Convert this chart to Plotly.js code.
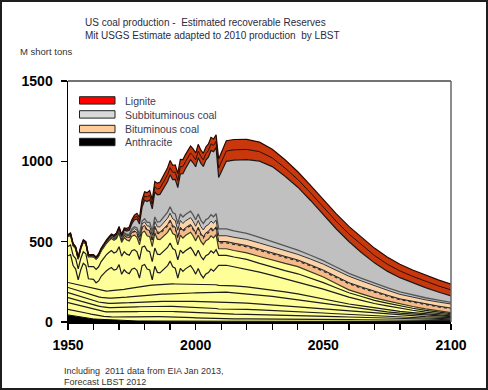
<!DOCTYPE html>
<html>
<head>
<meta charset="utf-8">
<script src="https://cdn.plot.ly/plotly-3.0.1.min.js"></script>
<style>
html,body{margin:0;padding:0;background:#fff;}
#frame{position:absolute;left:0;top:0;width:488px;height:390px;border:2px solid #1e1e1e;box-sizing:border-box;background:#fff;}
#chart{width:484px;height:386px;}
</style>
</head>
<body>
<div id="frame"><div id="chart"></div></div>
<script>
// ---------- x grids ----------
const annualYears = [1950,1951,1952,1953,1954,1955,1956,1957,1958,1959,
  1960,1961,1962,1963,1964,1965,1966,1967,1968,1969,
  1970,1971,1972,1973,1974,1975,1976,1977,1978,1979,
  1980,1981,1982,1983,1984,1985,1986,1987,1988,1989,
  1990,1991,1992,1993,1994,1995,1996,1997,1998,1999,
  2000,2001,2002,2003,2004,2005,2006,2007,2008,
  2009,2012,2015,2020,2025,2030,2035,2040,2045,2050,2055,2060,2065,2070,2075,2080,2085,2090,2095,2100];
const coarseYears = [1950,1955,1960,1965,1970,1975,1980,1985,1990,1995,2000,2005,2008,
  2009,2012,2020,2030,2040,2050,2060,2070,2080,2090,2100];

// ---------- band values (M short tons, stacked bottom to top) ----------
const anthracite = [44,30,19,14,10,7,6,5,4,4,4,4,4, 5,5,5,5,4,4,3,3,3,3,3];
const bitBand1 = [35,35,26,19,20,25,29,29,29,26,22,19,16, 14,14,14,14,14,13,12,10,8,6,5];
const bitBand2 = [42,35,33,30,32,32,31,32,33,33,33,32,32, 31,31,29,26,22,19,16,13,10,8,6];
const bitBand3 = [31,28,26,27,28,29,30,31,32,32,32,32,32, 31,31,30,27,23,20,16,13,10,8,6];
const bitBand4 = [31,30,26,26,26,28,30,31,32,34,37,39,41, 42,42,40,36,31,26,20,16,12,9,7];
const bitBand5 = [32,32,32,32,34,37,40,43,46,49,53,57,60, 63,63,57,52,44,33,25,17,12,8,6];
const bitBand6 = [31,38,46,44,48,54,59,61,61,58,54,50,47, 42,42,43,40,37,27,20,16,11,8,5];
const bitBand7 = [166,177,113,94,31,97,141,131,53,55,
  57,39,54,86,109,126,137,145,127,131,
  159,96,121,102,92,117,121,104,54,128,
  133,103,96,33,116,77,73,86,103,115,
  142,107,98,37,98,79,95,108,116,93,
  63,99,62,41,66,75,97,84,105,
  125,125,119,112,101,90,82,75,70,63,53,43,35,27,23,19,15,12,9,7];
const bitBand8 = [58,70,80,100,112,115,115,113,113,113,113,113,113, 62,62,60,50,50,40,27,20,15,10,7];
const bitBand9 = [60,60,60,70,85,90,92,94,94,94,94,94,94, 41,41,40,45,45,35,18,15,12,10,6];
const bitPeach1 = [2,2,2,4,10,20,30,36,41,41,41,41,41, 37,37,38,38,34,36,38,34,27,25,24];
const bitDark = [1,1,1,1,2,4,6,8,8,8,8,8,8, 8,8,8,8,7,7,7,6,5,5,5];
const bitPeach2 = [1,1,1,2,5,12,22,32,42,42,42,42,42, 36,36,38,38,35,37,40,35,28,26,25];
const subBand1 = [2,2,2,2,4,10,20,30,40,40,40,40,40, 42,42,38,32,26,22,18,16,16,13,10];
const subBand2 = [2,2,2,2,2,2,2,2,2,2,
  2,2,3,3,4,5,5,6,7,8,
  10,12,15,20,26,32,42,55,65,85,
  115,130,140,140,155,170,170,175,180,190,
  200,205,215,225,250,270,285,300,320,325,
  330,350,355,355,370,380,400,405,410,
  321,421,440,459,475,466,434,392,341,284,238,198,159,127,102,88,75,63,51,41];
const ligBand1 = [4,4,4,4,4,4,4,4,4,4,
  4,4,4,4,4,4,4,4,4,5,
  5,6,7,8,10,12,15,18,20,23,
  26,28,29,29,33,36,38,40,42,43,
  44,44,45,44,45,44,44,43,43,43,
  43,42,41,41,41,41,41,40,40,
  58,64,64,63,59,54,51,48,47,47,47,47,47,46,44,42,40,39,38,37];
const ligBand2 = [3,3,3,3,3,3,3,3,3,3,
  3,3,3,3,3,4,4,4,4,4,
  5,6,7,8,10,12,15,18,20,23,
  26,27,29,29,33,36,38,40,42,43,
  44,44,45,44,45,44,44,43,43,43,
  43,42,41,41,41,41,41,40,40,
  57,64,64,63,59,54,51,48,47,47,47,47,47,46,44,41,40,39,37,36];

// ---------- axis ticks & labels ----------
const xTickVals = [1950,1960,1970,1980,1990,2000,2010,2020,2030,2040,2050,2060,2070,2080,2090,2100];
const xTickText = ['1950','','','','','2000','','','','','2050','','','','','2100'];
const yTickVals = [0,500,1000,1500];
const yTickText = ['0','500','1000','1500'];
const legendNames = ['Lignite','Subbituminous coal','Bituminous coal','Anthracite'];
const legendColors = ['#FF0000','#D9D9D9','#FFCC99','#000000'];

const FONT = 'Liberation Sans, Arial, sans-serif';
const YEL = '#FFFF99', LINE = '#1c1c1c';

function band(name, x, y, fill, lineColor, lw, dash) {
  return {type:'scatter', mode:'lines', name:name, x:x, y:y, stackgroup:'coal',
    stackgaps:'interpolate', fillcolor:fill, showlegend:false, hoverinfo:'x+y+name',
    line:{color:lineColor, width:lw, dash:dash||'solid', shape:'linear'}};
}

const traces = [
  band('Anthracite', coarseYears, anthracite, '#000000', '#000000', 1),
  band('Bituminous 1', coarseYears, bitBand1, YEL, LINE, 1.2),
  band('Bituminous 2', coarseYears, bitBand2, YEL, LINE, 1.2),
  band('Bituminous 3', coarseYears, bitBand3, YEL, LINE, 1.2),
  band('Bituminous 4', coarseYears, bitBand4, YEL, LINE, 1.2),
  band('Bituminous 5', coarseYears, bitBand5, YEL, LINE, 1.2),
  band('Bituminous 6', coarseYears, bitBand6, YEL, LINE, 1.2),
  band('Bituminous 7', annualYears, bitBand7, YEL, LINE, 1.2),
  band('Bituminous 8', coarseYears, bitBand8, YEL, LINE, 1.2),
  band('Bituminous 9', coarseYears, bitBand9, YEL, '#3a3a1a', 1.2),
  band('Bituminous 10', coarseYears, bitPeach1, '#F6B98A', '#2a2a2a', 1.2, 'dot'),
  band('Bituminous 11', coarseYears, bitDark, '#B08A66', '#222222', 1),
  band('Bituminous 12', coarseYears, bitPeach2, '#FBD3A8', '#333333', 1),
  band('Subbituminous 1', coarseYears, subBand1, '#C4C4C4', '#555555', 1.3),
  band('Subbituminous 2', annualYears, subBand2, '#C0C0C0', '#1a1a1a', 1.2),
  band('Lignite 1', annualYears, ligBand1, '#C8380C', '#2a0800', 1),
  band('Lignite 2', annualYears, ligBand2, '#C8380C', '#2a0800', 1.2)
];

// plot area in page pixels: x 68..451, y 81..322 (frame offset 2px)
const PL = 68, PR = 451, PT = 81, PB = 322;
const px = v => (v - PL) / (PR - PL);
const py = v => (PB - v) / (PB - PT);

const shapes = [
  {type:'line', xref:'paper', yref:'paper', x0:0, x1:1, y0:1, y1:1, line:{color:'#444', width:1.5}},
  {type:'line', xref:'paper', yref:'paper', x0:1, x1:1, y0:0, y1:1, line:{color:'#666', width:1.5}}
];
const annotations = [];
const legTop = [96.7, 110.7, 125.3, 138.3];
legendNames.forEach((nm, i) => {
  shapes.push({type:'rect', xref:'paper', yref:'paper', x0:px(79.5), x1:px(115), y0:py(legTop[i]+7.4), y1:py(legTop[i]),
    fillcolor:legendColors[i], line:{color:'#222', width:1}, layer:'above'});
  annotations.push({xref:'paper', yref:'paper', x:px(123), y:py(legTop[i]+3.9), xanchor:'left', yanchor:'middle',
    text:nm, showarrow:false, font:{family:FONT, size:10.5, color:'#3c3c52'}});
});
annotations.push({xref:'paper', yref:'paper', x:px(18), y:py(51), xanchor:'left', yanchor:'middle',
  text:'M short tons', showarrow:false, font:{family:FONT, size:9.5, color:'#333'}});
annotations.push({xref:'paper', yref:'paper', x:px(62), y:py(371), xanchor:'left', yanchor:'middle',
  text:'Including  2011 data from EIA Jan 2013,', showarrow:false, font:{family:FONT, size:9, color:'#333'}});
annotations.push({xref:'paper', yref:'paper', x:px(62), y:py(381.5), xanchor:'left', yanchor:'middle',
  text:'Forecast LBST 2012', showarrow:false, font:{family:FONT, size:9, color:'#333'}});

const layout = {
  width:484, height:386,
  margin:{l:66, r:35, t:79, b:66, pad:0},
  paper_bgcolor:'#fff', plot_bgcolor:'#fff',
  showlegend:false,
  title:{text:'US coal production -  Estimated recoverable Reserves<br>Mit USGS Estimate adapted to 2010 production  by LBST',
    xref:'container', yref:'container', x:(85-2)/484, xanchor:'left', y:1-(26-2)/386, yanchor:'middle',
    font:{family:FONT, size:10, color:'#2b2b40'}},
  xaxis:{range:[1950,2100], tickmode:'array', tickvals:xTickVals, ticktext:xTickText,
    ticks:'outside', ticklen:6, tickwidth:1.3, tickcolor:'#000', showgrid:false, zeroline:false,
    showline:true, linecolor:'#000', linewidth:1.5, ticklabelstandoff:4,
    tickfont:{family:FONT, size:14, color:'#000', weight:'bold'}},
  yaxis:{range:[0,1500], tickmode:'array', tickvals:yTickVals, ticktext:yTickText,
    ticks:'outside', ticklen:6, tickwidth:1.3, tickcolor:'#000', showgrid:false, zeroline:false,
    showline:true, linecolor:'#000', linewidth:1.5, ticklabelstandoff:5,
    tickfont:{family:FONT, size:14, color:'#000', weight:'bold'}},
  shapes:shapes, annotations:annotations
};

Plotly.newPlot('chart', traces, layout, {displayModeBar:false, staticPlot:true});
</script>
</body>
</html>
